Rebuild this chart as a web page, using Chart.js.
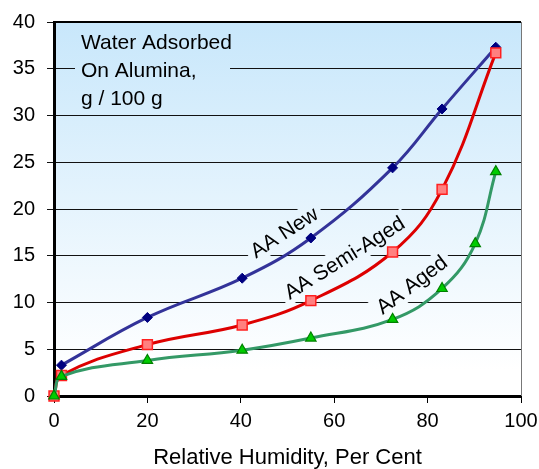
<!DOCTYPE html>
<html>
<head>
<meta charset="utf-8">
<script src="https://cdn.jsdelivr.net/npm/chart.js@4"></script>
<style>
  html, body { margin: 0; padding: 0; background: #fff; }
  #wrap { width: 539px; height: 469px; }
</style>
</head>
<body>
<div id="wrap"><canvas id="myChart"></canvas></div>
<script>
const ctx = document.getElementById('myChart');

// relative humidity (%) vs water adsorbed (g / 100 g)
const newX = [1.6, 20, 40.3, 55, 72.5, 83.1, 94.6];
const newY = [3.3, 8.4, 12.6, 16.9, 24.4, 30.7, 37.3];

const semiX = [0, 1.6, 20, 40.3, 55, 72.5, 83.1, 94.6];
const semiY = [0, 2.2, 5.5, 7.6, 10.2, 15.4, 22.1, 36.7];

const agedX = [0, 1.6, 20, 40.3, 55, 72.5, 83.1, 90.2, 94.6];
const agedY = [0, 2.1, 3.8, 4.9, 6.2, 8.2, 11.5, 16.3, 24.0];

const seriesNames = ['AA New', 'AA Semi-Aged', 'AA Aged'];
const titleLines = ['Water Adsorbed', 'On Alumina,', 'g / 100 g'];
const xTitle = 'Relative Humidity, Per Cent';

const FONT = "'Liberation Sans', Arial, sans-serif";

function toPoints(xs, ys) {
    return xs.map((x, i) => ({ x: x, y: ys[i] }));
}

// curve labels, placed in data units
const curveLabels = [
    { text: seriesNames[0], x: 49.3, y: 17.5, angle: -33 },
    { text: seriesNames[1], x: 62.2, y: 14.8, angle: -32 },
    { text: seriesNames[2], x: 76.6, y: 11.9, angle: -37 }
];

let bgGradient = null;
function getGradient(c, area) {
    const g = c.createLinearGradient(0, area.top, 0, area.bottom);
    g.addColorStop(0, '#c8e7fb');
    g.addColorStop(0.93, '#ffffff');
    g.addColorStop(1, '#ffffff');
    return g;
}

const backgroundPlugin = {
    id: 'plotBackground',
    beforeDraw(chart) {
        const { ctx: c, chartArea: a } = chart;
        bgGradient = getGradient(c, a);
        c.save();
        c.fillStyle = bgGradient;
        c.fillRect(a.left, a.top, a.right - a.left, a.bottom - a.top);
        c.restore();
    }
};

// masks and text drawn over the grid, under the curves
const textPlugin = {
    id: 'plotText',
    beforeDatasetsDraw(chart) {
        const { ctx: c, chartArea: a, scales } = chart;
        c.save();

        // title box
        c.fillStyle = bgGradient;
        c.fillRect(a.left + 21, a.top + 6, 155, 86);
        c.fillStyle = '#000';
        c.font = '21px ' + FONT;
        c.textAlign = 'left';
        c.textBaseline = 'alphabetic';
        titleLines.forEach((t, i) => {
            c.fillText(t, a.left + 27, a.top + 27 + i * 28);
        });

        // rotated curve labels with a background that hides the grid lines
        c.font = '21px ' + FONT;
        curveLabels.forEach(l => {
            const px = scales.x.getPixelForValue(l.x);
            const py = scales.y.getPixelForValue(l.y);
            const w = c.measureText(l.text).width + 10;
            const h = 24;
            const r = l.angle * Math.PI / 180;
            const cos = Math.cos(r), sin = Math.sin(r);
            const corners = [[-w / 2, -h / 2], [w / 2, -h / 2], [w / 2, h / 2], [-w / 2, h / 2]];
            c.beginPath();
            corners.forEach((p, i) => {
                const cx = px + p[0] * cos - p[1] * sin;
                const cy = py + p[0] * sin + p[1] * cos;
                if (i === 0) c.moveTo(cx, cy); else c.lineTo(cx, cy);
            });
            c.closePath();
            c.fillStyle = bgGradient;
            c.fill();

            c.save();
            c.translate(px, py);
            c.rotate(r);
            c.fillStyle = '#000';
            c.textAlign = 'center';
            c.textBaseline = 'middle';
            c.fillText(l.text, 0, 1);
            c.restore();
        });

        // top and right frame
        c.strokeStyle = '#000';
        c.lineWidth = 2;
        c.beginPath();
        c.moveTo(a.left, a.top);
        c.lineTo(a.right, a.top);
        c.stroke();
        c.strokeStyle = '#777';
        c.lineWidth = 1;
        c.beginPath();
        c.moveTo(a.right + 0.5, a.top);
        c.lineTo(a.right + 0.5, a.bottom);
        c.stroke();
        c.restore();
    }
};

const chartData = {
    datasets: [
        {
            label: seriesNames[0],
            data: toPoints(newX, newY),
            showLine: true,
            borderColor: '#333399',
            borderWidth: 3,
            pointStyle: 'rectRot',
            pointRadius: 5,
            pointBackgroundColor: '#000080',
            pointBorderColor: '#000080',
            pointBorderWidth: 1,
            order: 3
        },
        {
            label: seriesNames[1],
            data: toPoints(semiX, semiY),
            showLine: true,
            borderColor: '#dd0000',
            borderWidth: 3,
            pointStyle: 'rect',
            pointRadius: 7,
            pointBackgroundColor: '#ff8080',
            pointBorderColor: '#ff2020',
            pointBorderWidth: 1.5,
            order: 2
        },
        {
            label: seriesNames[2],
            data: toPoints(agedX, agedY),
            showLine: true,
            borderColor: '#339966',
            borderWidth: 3,
            pointStyle: 'triangle',
            pointRadius: 6,
            pointBackgroundColor: '#00cc00',
            pointBorderColor: '#008000',
            pointBorderWidth: 1.2,
            order: 1
        }
    ]
};

const chart = new Chart(ctx, {
    type: 'scatter',
    data: chartData,
    plugins: [backgroundPlugin, textPlugin],
    options: {
        responsive: true,
        maintainAspectRatio: false,
        animation: false,
        clip: false,
        layout: { padding: { top: 22, right: 18, left: 0, bottom: 0 } },
        elements: {
            line: { cubicInterpolationMode: 'default', tension: 0.4 }
        },
        plugins: {
            legend: { display: false },
            tooltip: { enabled: false }
        },
        scales: {
            x: {
                type: 'linear',
                min: 0,
                max: 100,
                ticks: { stepSize: 20, color: '#000', font: { family: FONT, size: 20 }, padding: 6 },
                grid: { drawOnChartArea: false, drawTicks: true, tickLength: 7, color: '#000', lineWidth: 1 },
                border: { display: true, color: '#000', width: 3 },
                title: {
                    display: true,
                    text: xTitle,
                    color: '#000',
                    font: { family: FONT, size: 22 },
                    padding: { top: 3, bottom: -2 }
                },
                afterFit(scale) {
                    scale.height = 73;
                    scale.paddingRight = 0;
                    scale.paddingLeft = 0;
                }
            },
            y: {
                type: 'linear',
                min: 0,
                max: 40,
                ticks: { stepSize: 5, color: '#000', font: { family: FONT, size: 20 }, padding: 12 },
                grid: { color: '#111', lineWidth: 1, tickLength: 7, drawTicks: true },
                border: { display: true, color: '#000', width: 3 },
                afterFit(scale) {
                    scale.width = 54;
                    scale.paddingTop = 0;
                    scale.paddingBottom = 0;
                }
            }
        }
    }
});
</script>
</body>
</html>
